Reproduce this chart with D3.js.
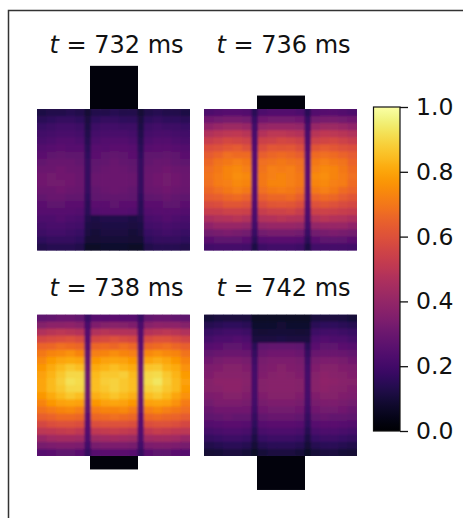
<!DOCTYPE html>
<html>
<head>
<meta charset="utf-8">
<script src="https://cdn.jsdelivr.net/npm/d3@7"></script>
<style>
body{margin:0;background:#fff;}
svg{display:block;font-family:"DejaVu Sans",sans-serif;}
</style>
</head>
<body>
<svg id="canvas" width="463" height="518"></svg>
<script>
let times=[732,736,738,742];
let cbarTicks=[0,0.2,0.4,0.6,0.8,1];

// column edges of the grid (left chamber, wall, centre, wall, right chamber)
let colEdges=[0,9.5,19,28.5,38,47.5,53.8,63.2,72.6,82,91.4,100.5,106.8,116,125.2,134.4,143.6,153];
let blockStart=53, blockEnd=101;

// blocks outside the grid, in rows
let extraTop=[6.1,1.9,0,0];
let extraBottom=[0,0,1.9,4.8];
let extraValue=[0.02,0.02,0.02,0.02];

let grid732=[
[.12,.13,.13,.14,.13,.09,.13,.13,.14,.13,.13,.09,.13,.14,.13,.13,.12],
[.15,.16,.17,.17,.16,.11,.16,.17,.17,.16,.16,.11,.16,.17,.16,.16,.15],
[.18,.19,.20,.20,.19,.12,.19,.20,.20,.19,.19,.12,.19,.20,.19,.19,.18],
[.20,.21,.22,.22,.21,.13,.21,.22,.22,.22,.21,.13,.21,.22,.22,.21,.20],
[.22,.23,.24,.24,.23,.14,.23,.24,.24,.24,.23,.14,.23,.24,.24,.23,.22],
[.24,.25,.26,.25,.25,.15,.25,.25,.26,.26,.25,.15,.25,.26,.26,.25,.24],
[.26,.27,.28,.27,.27,.16,.26,.27,.28,.27,.26,.16,.27,.27,.28,.27,.26],
[.28,.29,.29,.29,.28,.17,.27,.28,.29,.28,.27,.17,.28,.29,.29,.28,.27],
[.30,.30,.31,.30,.29,.17,.28,.29,.30,.29,.28,.17,.29,.30,.31,.30,.29],
[.31,.32,.31,.31,.30,.17,.29,.30,.30,.30,.29,.17,.30,.31,.32,.31,.30],
[.31,.32,.32,.31,.30,.17,.29,.30,.30,.30,.29,.17,.30,.31,.32,.31,.30],
[.30,.30,.31,.30,.29,.17,.28,.29,.30,.29,.28,.17,.29,.30,.31,.30,.29],
[.28,.29,.29,.28,.28,.16,.27,.28,.28,.28,.27,.16,.27,.28,.29,.28,.27],
[.26,.27,.27,.26,.26,.15,.26,.26,.27,.26,.26,.15,.26,.26,.27,.27,.26],
[.25,.25,.25,.25,.24,.15,.24,.25,.25,.25,.24,.15,.24,.25,.25,.25,.24],
[.23,.23,.24,.23,.22,.13,.12,.13,.13,.13,.12,.13,.22,.23,.24,.23,.22],
[.21,.22,.22,.21,.20,.12,.11,.12,.12,.12,.11,.12,.20,.21,.22,.21,.20],
[.19,.20,.20,.19,.18,.11,.10,.11,.11,.11,.10,.11,.18,.19,.20,.19,.18],
[.16,.17,.17,.17,.16,.09,.09,.10,.10,.10,.09,.09,.16,.17,.17,.17,.16],
[.13,.14,.14,.14,.13,.07,.07,.08,.08,.08,.07,.07,.13,.14,.14,.14,.13]];

let grid736=[
[.23,.24,.25,.25,.24,.15,.23,.24,.24,.24,.23,.15,.24,.25,.25,.24,.23],
[.31,.32,.33,.33,.32,.18,.31,.32,.32,.32,.31,.18,.32,.33,.33,.32,.31],
[.39,.41,.42,.42,.41,.20,.40,.41,.41,.41,.40,.20,.41,.42,.42,.41,.39],
[.47,.49,.50,.51,.49,.22,.48,.50,.50,.49,.48,.22,.49,.51,.50,.49,.47],
[.53,.55,.57,.56,.55,.23,.54,.55,.57,.56,.54,.23,.55,.56,.57,.55,.53],
[.59,.60,.62,.63,.60,.24,.59,.62,.61,.62,.59,.24,.61,.63,.62,.60,.59],
[.63,.65,.68,.67,.67,.25,.64,.66,.67,.66,.64,.25,.67,.68,.67,.65,.63],
[.66,.69,.70,.72,.70,.25,.68,.69,.70,.69,.68,.25,.70,.72,.70,.69,.65],
[.68,.70,.73,.74,.72,.26,.69,.72,.71,.72,.69,.26,.72,.74,.73,.70,.67],
[.69,.71,.73,.75,.74,.26,.70,.72,.73,.72,.70,.26,.74,.75,.73,.71,.68],
[.68,.71,.72,.74,.73,.26,.70,.73,.73,.72,.70,.26,.73,.74,.72,.71,.67],
[.66,.68,.70,.72,.70,.25,.68,.70,.71,.70,.68,.25,.70,.72,.70,.67,.65],
[.63,.64,.66,.67,.65,.25,.64,.66,.66,.67,.64,.25,.65,.67,.66,.63,.61],
[.58,.59,.61,.61,.60,.24,.59,.61,.62,.61,.59,.24,.60,.61,.60,.58,.57],
[.53,.53,.55,.55,.54,.23,.53,.55,.55,.56,.53,.23,.54,.55,.54,.53,.52],
[.46,.47,.48,.49,.47,.22,.47,.48,.49,.48,.47,.22,.47,.49,.48,.47,.46],
[.39,.41,.41,.41,.40,.20,.40,.41,.41,.41,.40,.20,.40,.41,.41,.41,.39],
[.32,.33,.34,.33,.32,.18,.32,.33,.33,.33,.32,.18,.32,.33,.34,.33,.32],
[.26,.27,.27,.27,.26,.15,.25,.26,.26,.26,.25,.15,.26,.27,.27,.27,.26],
[.20,.21,.21,.21,.20,.12,.19,.20,.20,.20,.19,.12,.20,.21,.21,.21,.20]];

let grid738=[
[.27,.28,.29,.29,.28,.18,.25,.25,.26,.25,.25,.18,.28,.29,.29,.28,.27],
[.36,.38,.38,.39,.37,.22,.35,.36,.37,.36,.35,.22,.37,.39,.38,.38,.36],
[.47,.49,.50,.49,.48,.24,.47,.49,.48,.48,.47,.24,.48,.49,.50,.49,.47],
[.57,.58,.59,.60,.58,.25,.57,.58,.60,.58,.57,.25,.58,.60,.60,.58,.56],
[.65,.66,.68,.67,.66,.26,.66,.67,.66,.68,.66,.26,.66,.67,.68,.66,.64],
[.70,.73,.74,.76,.73,.27,.72,.73,.75,.73,.72,.27,.74,.76,.74,.73,.69],
[.74,.78,.80,.81,.80,.28,.77,.79,.80,.79,.77,.28,.80,.82,.80,.77,.73],
[.77,.81,.84,.87,.85,.29,.81,.83,.85,.83,.81,.29,.86,.87,.83,.81,.76],
[.79,.83,.87,.90,.90,.30,.84,.87,.87,.88,.84,.30,.90,.91,.87,.83,.78],
[.80,.84,.88,.92,.91,.30,.85,.88,.89,.87,.85,.30,.91,.93,.88,.84,.79],
[.80,.84,.87,.90,.90,.30,.85,.87,.89,.87,.85,.30,.89,.90,.87,.84,.78],
[.77,.81,.84,.87,.85,.29,.82,.84,.86,.84,.82,.29,.85,.87,.84,.80,.76],
[.73,.77,.79,.80,.79,.28,.77,.79,.80,.79,.77,.28,.79,.80,.79,.76,.71],
[.69,.71,.73,.74,.72,.27,.71,.73,.73,.74,.71,.27,.72,.74,.72,.70,.68],
[.64,.65,.67,.67,.66,.26,.66,.67,.68,.67,.66,.26,.66,.67,.66,.65,.63],
[.57,.59,.60,.60,.59,.25,.59,.60,.60,.60,.59,.25,.59,.60,.60,.59,.57],
[.50,.51,.52,.53,.51,.24,.51,.52,.53,.52,.51,.24,.51,.53,.52,.51,.50],
[.41,.43,.44,.44,.43,.23,.42,.43,.44,.43,.42,.23,.43,.44,.44,.43,.41],
[.33,.34,.35,.35,.34,.20,.33,.34,.34,.34,.33,.20,.34,.35,.35,.34,.33],
[.25,.26,.27,.27,.26,.17,.25,.26,.26,.26,.25,.17,.26,.27,.27,.26,.25]];

let grid742=[
[.10,.11,.11,.11,.11,.07,.07,.07,.07,.07,.07,.07,.11,.11,.11,.11,.10],
[.14,.15,.16,.16,.15,.08,.08,.08,.09,.08,.08,.08,.15,.16,.16,.15,.14],
[.18,.19,.20,.20,.19,.10,.09,.10,.10,.10,.09,.10,.19,.20,.20,.19,.18],
[.21,.23,.23,.24,.23,.11,.11,.11,.12,.11,.11,.11,.23,.24,.23,.23,.21],
[.25,.26,.27,.27,.26,.15,.27,.28,.28,.28,.27,.15,.26,.27,.27,.26,.25],
[.28,.29,.30,.30,.29,.17,.30,.31,.31,.31,.30,.17,.29,.30,.30,.29,.28],
[.31,.33,.34,.34,.33,.19,.33,.34,.34,.34,.33,.19,.33,.34,.34,.33,.31],
[.34,.35,.36,.36,.35,.20,.34,.35,.36,.35,.34,.20,.35,.36,.36,.35,.34],
[.35,.37,.37,.37,.36,.21,.35,.36,.37,.36,.35,.21,.36,.38,.37,.36,.35],
[.36,.38,.38,.38,.37,.21,.36,.37,.37,.37,.36,.21,.37,.39,.38,.37,.36],
[.36,.37,.38,.38,.36,.21,.36,.37,.37,.37,.36,.21,.37,.38,.37,.36,.35],
[.34,.35,.36,.36,.35,.21,.35,.36,.36,.36,.35,.21,.35,.36,.36,.35,.34],
[.32,.34,.34,.34,.33,.20,.33,.34,.34,.34,.33,.20,.33,.34,.34,.33,.32],
[.29,.31,.31,.31,.31,.19,.31,.32,.32,.32,.31,.19,.31,.32,.32,.31,.29],
[.27,.28,.29,.28,.28,.17,.28,.29,.29,.29,.28,.17,.28,.29,.28,.28,.27],
[.24,.25,.26,.26,.25,.16,.25,.26,.26,.26,.25,.16,.25,.26,.26,.25,.24],
[.21,.22,.23,.23,.22,.14,.22,.23,.23,.23,.22,.14,.22,.23,.23,.22,.21],
[.17,.18,.19,.19,.18,.12,.18,.19,.19,.19,.18,.12,.18,.19,.19,.18,.17],
[.13,.14,.15,.15,.14,.10,.14,.15,.15,.15,.14,.10,.14,.15,.15,.14,.13],
[.09,.10,.11,.11,.10,.07,.10,.11,.11,.11,.10,.07,.10,.11,.11,.10,.09]];

let grids=[grid732,grid736,grid738,grid742];

let color=d3.scaleSequential(d3.interpolateInferno).domain([0,1]);
let svg=d3.select("#canvas");

// figure frame runs off the window on the right and bottom
svg.append("path").attr("d","M8.5,518V10.5H463").attr("fill","none").attr("stroke","#333").attr("stroke-width",1.5);

let defs=svg.append("defs");
defs.append("filter").attr("id","soft").attr("x","-5%").attr("y","-5%").attr("width","110%").attr("height","110%")
  .append("feGaussianBlur").attr("stdDeviation",0.8);

let panelX=[37,204,37,204], panelY=[109,109,314.5,314.5];
let titleY=[53,53,296,296];
let panelW=153, panelH=141.5;

let drawCells=(g,grid,xScale,yScale)=>{
  grid.forEach((row,r)=>{
    g.selectAll(null).data(row).enter().append("rect")
      .attr("x",(d,c)=>xScale(colEdges[c]))
      .attr("y",yScale(r))
      .attr("width",(d,c)=>xScale(colEdges[c+1])-xScale(colEdges[c])+0.5)
      .attr("height",yScale(r+1)-yScale(r)+0.5)
      .attr("fill",(d)=>color(d));
  });
};

times.forEach((t,i)=>{
  let xScale=d3.scaleLinear().domain([0,153]).range([panelX[i],panelX[i]+panelW]);
  let yScale=d3.scaleLinear().domain([0,20]).range([panelY[i],panelY[i]+panelH]);

  defs.append("clipPath").attr("id","clip"+i).append("rect")
    .attr("x",panelX[i]).attr("y",panelY[i]).attr("width",panelW).attr("height",panelH);

  let holder=svg.append("g").attr("clip-path",`url(#clip${i})`);
  drawCells(holder.append("g"),grids[i],xScale,yScale);
  drawCells(holder.append("g").attr("filter","url(#soft)"),grids[i],xScale,yScale);

  if(extraTop[i]>0){
    svg.append("rect").attr("x",xScale(blockStart)).attr("width",xScale(blockEnd)-xScale(blockStart))
      .attr("y",yScale(-extraTop[i])).attr("height",yScale(0)-yScale(-extraTop[i])).attr("fill",color(extraValue[i]));
  }
  if(extraBottom[i]>0){
    svg.append("rect").attr("x",xScale(blockStart)).attr("width",xScale(blockEnd)-xScale(blockStart))
      .attr("y",yScale(20)).attr("height",yScale(20+extraBottom[i])-yScale(20)).attr("fill",color(extraValue[i]));
  }

  let title=svg.append("text").attr("x",panelX[i]+79.5).attr("y",titleY[i])
    .attr("text-anchor","middle").style("font-size","24px").attr("fill","#111");
  title.append("tspan").style("font-style","italic").text("t");
  title.append("tspan").text(" = "+t+" ms");
});

// colorbar
let cbX=373.5, cbW=26.5, cbTop=107, cbBottom=431;
let cbScale=d3.scaleLinear().domain([0,1]).range([cbBottom,cbTop]);
let grad=defs.append("linearGradient").attr("id","cbar").attr("x1",0).attr("x2",0).attr("y1",1).attr("y2",0);
grad.selectAll("stop").data(d3.range(0,1.001,0.02)).enter().append("stop")
  .attr("offset",(d)=>d).attr("stop-color",(d)=>color(d));
svg.append("rect").attr("x",cbX).attr("y",cbTop).attr("width",cbW).attr("height",cbBottom-cbTop)
  .attr("fill","url(#cbar)").attr("stroke","#111").attr("stroke-width",1.2);

let cbAxis=d3.axisRight(cbScale).tickValues(cbarTicks).tickFormat(d3.format(".1f")).tickSize(8).tickPadding(8);
let axisG=svg.append("g").attr("transform",`translate(${cbX+cbW},0)`).call(cbAxis);
axisG.select(".domain").remove();
axisG.selectAll("line").attr("stroke","#111").attr("stroke-width",1.3);
axisG.selectAll("text").attr("fill","#111").style("font-family","'DejaVu Sans',sans-serif").style("font-size","23.5px");
</script>
</body>
</html>
